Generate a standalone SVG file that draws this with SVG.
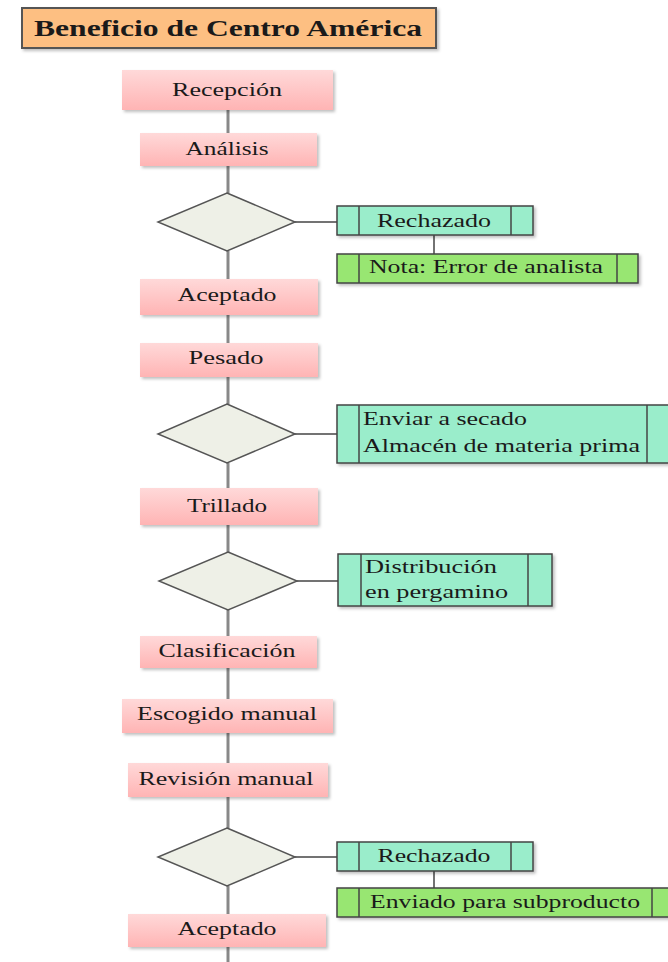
<svg xmlns="http://www.w3.org/2000/svg" width="668" height="962" viewBox="0 0 668 962">
<defs>
<linearGradient id="pink" x1="0" y1="0" x2="0" y2="1">
<stop offset="0" stop-color="#ffd9d9"/>
<stop offset="1" stop-color="#ffb4b4"/>
</linearGradient>
<filter id="sh" x="-5%" y="-10%" width="115%" height="130%">
<feDropShadow dx="2" dy="2" stdDeviation="1.5" flood-color="#000" flood-opacity="0.25"/>
</filter>
</defs>
<style>
text{font-family:'Liberation Serif','DejaVu Serif','Times New Roman',serif;font-size:19px;fill:#1a1a1a}
.c{text-anchor:middle}
.title{font-weight:bold;font-size:24px}
.step{fill:url(#pink);filter:url(#sh)}
.dec{fill:#eef0e7;stroke:#555;stroke-width:1.5}
.mint{fill:#9aedcb;stroke:#444;stroke-width:1.5;filter:url(#sh)}
.lime{fill:#98e672;stroke:#444;stroke-width:1.5;filter:url(#sh)}
.bar{stroke:#444;stroke-width:1.5}
.v{stroke:#888;stroke-width:3}
.h{stroke:#444;stroke-width:1.5}
</style>
<rect width="668" height="962" fill="#fff"/>
<g id="connectors">
<line class="v" x1="228" y1="110" x2="228" y2="133"/>
<line class="v" x1="228" y1="166" x2="228" y2="193"/>
<line class="v" x1="228" y1="251" x2="228" y2="279"/>
<line class="v" x1="228" y1="315" x2="228" y2="343"/>
<line class="v" x1="228" y1="377" x2="228" y2="404"/>
<line class="v" x1="228" y1="463" x2="228" y2="488"/>
<line class="v" x1="228" y1="525" x2="228" y2="552"/>
<line class="v" x1="228" y1="610" x2="228" y2="636"/>
<line class="v" x1="228" y1="668" x2="228" y2="699"/>
<line class="v" x1="228" y1="733" x2="228" y2="763"/>
<line class="v" x1="228" y1="797" x2="228" y2="828"/>
<line class="v" x1="228" y1="886" x2="228" y2="914"/>
<line class="v" x1="228" y1="947" x2="228" y2="962"/>
<line class="h" x1="295" y1="222" x2="337" y2="222"/>
<line class="h" x1="434" y1="235" x2="434" y2="254"/>
<line class="h" x1="295" y1="434" x2="337" y2="434"/>
<line class="h" x1="297" y1="581" x2="338" y2="581"/>
<line class="h" x1="295" y1="857" x2="337" y2="857"/>
<line class="h" x1="434" y1="871" x2="434" y2="888"/>
</g>
<g id="title">
<rect x="22" y="8" width="414" height="40" fill="#fdbf82" stroke="#555" stroke-width="2" filter="url(#sh)"/>
<text class="title c" x="228" y="36" textLength="388" lengthAdjust="spacingAndGlyphs">Beneficio de Centro América</text>
</g>
<g id="recepcion">
<rect class="step" x="122" y="70" width="211" height="40"/>
<text class="c" x="227" y="96" textLength="110" lengthAdjust="spacingAndGlyphs">Recepción</text>
</g>
<g id="analisis">
<rect class="step" x="140" y="133" width="177" height="33"/>
<text class="c" x="227" y="155" textLength="83" lengthAdjust="spacingAndGlyphs">Análisis</text>
</g>
<g id="decision1">
<polygon class="dec" points="227,193 295,222 227,251 158,222"/>
</g>
<g id="rechazado1">
<rect class="mint" x="337" y="206" width="196" height="29"/>
<line class="bar" x1="359" y1="206" x2="359" y2="235"/>
<line class="bar" x1="511" y1="206" x2="511" y2="235"/>
<text class="c" x="434" y="227" textLength="114" lengthAdjust="spacingAndGlyphs">Rechazado</text>
</g>
<g id="nota1">
<rect class="lime" x="337" y="254" width="301" height="29"/>
<line class="bar" x1="359" y1="254" x2="359" y2="283"/>
<line class="bar" x1="617" y1="254" x2="617" y2="283"/>
<text x="369" y="273" textLength="234" lengthAdjust="spacingAndGlyphs">Nota: Error de analista</text>
</g>
<g id="aceptado1">
<rect class="step" x="140" y="279" width="178" height="36"/>
<text class="c" x="227" y="301" textLength="99" lengthAdjust="spacingAndGlyphs">Aceptado</text>
</g>
<g id="pesado">
<rect class="step" x="140" y="343" width="178" height="34"/>
<text class="c" x="226" y="364" textLength="75" lengthAdjust="spacingAndGlyphs">Pesado</text>
</g>
<g id="decision2">
<polygon class="dec" points="227,404 295,434 227,463 158,434"/>
</g>
<g id="secado">
<rect class="mint" x="337" y="405" width="336" height="58"/>
<line class="bar" x1="359" y1="405" x2="359" y2="463"/>
<line class="bar" x1="647" y1="405" x2="647" y2="463"/>
<text x="363" y="425" textLength="164" lengthAdjust="spacingAndGlyphs">Enviar a secado</text>
<text x="363" y="452" textLength="277" lengthAdjust="spacingAndGlyphs">Almacén de materia prima</text>
</g>
<g id="trillado">
<rect class="step" x="140" y="488" width="178" height="37"/>
<text class="c" x="227" y="512" textLength="80" lengthAdjust="spacingAndGlyphs">Trillado</text>
</g>
<g id="decision3">
<polygon class="dec" points="228,552 297,581 228,610 159,581"/>
</g>
<g id="pergamino">
<rect class="mint" x="338" y="554" width="214" height="52"/>
<line class="bar" x1="361" y1="554" x2="361" y2="606"/>
<line class="bar" x1="528" y1="554" x2="528" y2="606"/>
<text x="365" y="573" textLength="132" lengthAdjust="spacingAndGlyphs">Distribución</text>
<text x="365" y="598" textLength="143" lengthAdjust="spacingAndGlyphs">en pergamino</text>
</g>
<g id="clasificacion">
<rect class="step" x="140" y="636" width="177" height="32"/>
<text class="c" x="227" y="657" textLength="137" lengthAdjust="spacingAndGlyphs">Clasificación</text>
</g>
<g id="escogido">
<rect class="step" x="122" y="699" width="211" height="34"/>
<text class="c" x="227" y="720" textLength="180" lengthAdjust="spacingAndGlyphs">Escogido manual</text>
</g>
<g id="revision">
<rect class="step" x="128" y="763" width="200" height="34"/>
<text class="c" x="226" y="785" textLength="175" lengthAdjust="spacingAndGlyphs">Revisión manual</text>
</g>
<g id="decision4">
<polygon class="dec" points="227,828 295,857 227,886 158,857"/>
</g>
<g id="rechazado2">
<rect class="mint" x="337" y="842" width="196" height="29"/>
<line class="bar" x1="359" y1="842" x2="359" y2="871"/>
<line class="bar" x1="511" y1="842" x2="511" y2="871"/>
<text class="c" x="434" y="862" textLength="113" lengthAdjust="spacingAndGlyphs">Rechazado</text>
</g>
<g id="subproducto">
<rect class="lime" x="337" y="888" width="336" height="29"/>
<line class="bar" x1="359" y1="888" x2="359" y2="917"/>
<line class="bar" x1="652" y1="888" x2="652" y2="917"/>
<text x="370" y="908" textLength="270" lengthAdjust="spacingAndGlyphs">Enviado para subproducto</text>
</g>
<g id="aceptado2">
<rect class="step" x="128" y="914" width="198" height="33"/>
<text class="c" x="227" y="935" textLength="99" lengthAdjust="spacingAndGlyphs">Aceptado</text>
</g>
</svg>
